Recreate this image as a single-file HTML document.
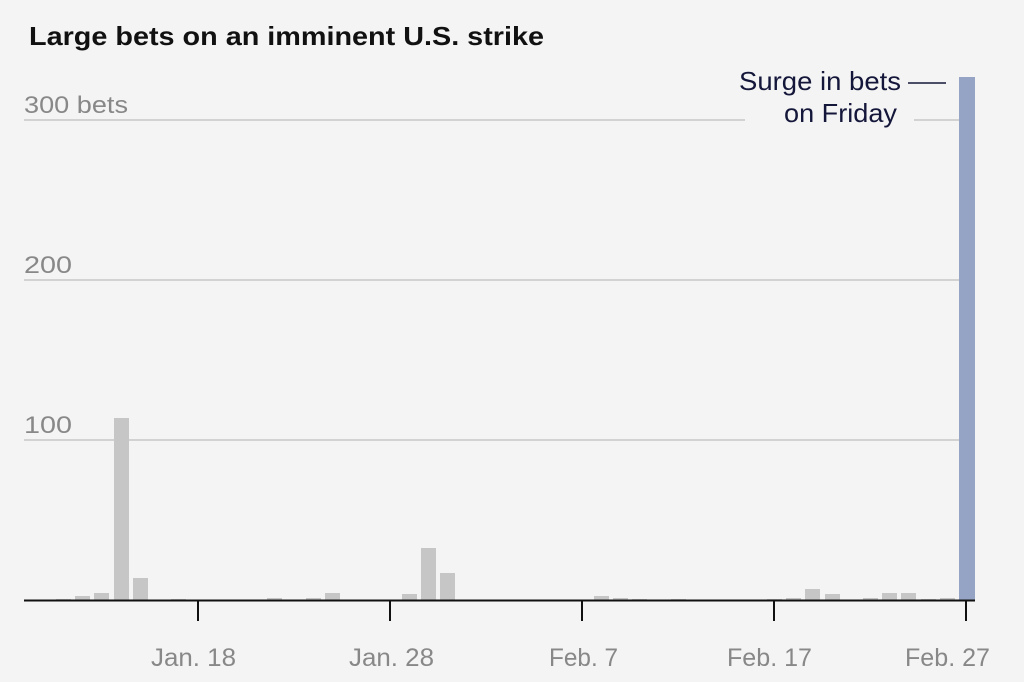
<!DOCTYPE html>
<html><head><meta charset="utf-8"><style>
html,body{margin:0;padding:0;background:#f4f4f4;}
svg{display:block;font-family:"Liberation Sans",sans-serif;}
</style></head><body>
<svg width="1024" height="682" viewBox="0 0 1024 682">
<rect width="1024" height="682" fill="#f4f4f4"/>
<text x="29" y="45" font-size="26" font-weight="bold" fill="#111" textLength="515" lengthAdjust="spacingAndGlyphs">Large bets on an imminent U.S. strike</text>
<g stroke="#d2d2d2" stroke-width="2">
<line x1="24" y1="120" x2="745" y2="120"/>
<line x1="914" y1="120" x2="960" y2="120"/>
<line x1="24" y1="280" x2="972" y2="280"/>
<line x1="24" y1="440" x2="972" y2="440"/>
</g>
<g font-size="24" fill="#888">
<text x="24" y="113" textLength="104" lengthAdjust="spacingAndGlyphs">300 bets</text>
<text x="24" y="273" textLength="48" lengthAdjust="spacingAndGlyphs">200</text>
<text x="24" y="433" textLength="48" lengthAdjust="spacingAndGlyphs">100</text>
</g>
<g fill="#c6c6c6">
<rect x="56" y="599" width="15" height="1"/>
<rect x="75" y="596" width="15" height="4"/>
<rect x="94" y="593" width="15" height="7"/>
<rect x="114" y="418" width="15" height="182"/>
<rect x="133" y="578" width="15" height="22"/>
<rect x="171" y="599" width="15" height="1"/>
<rect x="267" y="598" width="15" height="2"/>
<rect x="306" y="598" width="15" height="2"/>
<rect x="325" y="593" width="15" height="7"/>
<rect x="402" y="594" width="15" height="6"/>
<rect x="421" y="548" width="15" height="52"/>
<rect x="440" y="573" width="15" height="27"/>
<rect x="594" y="596" width="15" height="4"/>
<rect x="613" y="598" width="15" height="2"/>
<rect x="632" y="599" width="15" height="1"/>
<rect x="671" y="599" width="15" height="1"/>
<rect x="767" y="599" width="15" height="1"/>
<rect x="786" y="598" width="15" height="2"/>
<rect x="805" y="589" width="15" height="11"/>
<rect x="825" y="594" width="15" height="6"/>
<rect x="863" y="598" width="15" height="2"/>
<rect x="882" y="593" width="15" height="7"/>
<rect x="901" y="593" width="15" height="7"/>
<rect x="921" y="599" width="15" height="1"/>
<rect x="940" y="598" width="15" height="2"/>
</g>
<rect x="959" y="77" width="16" height="523" fill="#95a3c4"/>
<line x1="24" y1="600.5" x2="975" y2="600.5" stroke="#111" stroke-width="2"/>
<g stroke="#111" stroke-width="2">
<line x1="198" y1="600" x2="198" y2="621"/>
<line x1="390" y1="600" x2="390" y2="621"/>
<line x1="582" y1="600" x2="582" y2="621"/>
<line x1="774" y1="600" x2="774" y2="621"/>
<line x1="966" y1="600" x2="966" y2="621"/>
</g>
<g font-size="25" fill="#888">
<text x="151" y="666" textLength="85" lengthAdjust="spacingAndGlyphs">Jan. 18</text>
<text x="349" y="666" textLength="85" lengthAdjust="spacingAndGlyphs">Jan. 28</text>
<text x="549" y="666" textLength="69" lengthAdjust="spacingAndGlyphs">Feb. 7</text>
<text x="727" y="666" textLength="85" lengthAdjust="spacingAndGlyphs">Feb. 17</text>
<text x="905" y="666" textLength="85" lengthAdjust="spacingAndGlyphs">Feb. 27</text>
</g>
<g font-size="26" fill="#14163a" text-anchor="end">
<text x="901" y="90" textLength="162" lengthAdjust="spacingAndGlyphs">Surge in bets</text>
<text x="897" y="122" textLength="113" lengthAdjust="spacingAndGlyphs">on Friday</text>
</g>
<line x1="908" y1="83" x2="946" y2="83" stroke="#14163a" stroke-width="1.5"/>
</svg>
</body></html>
